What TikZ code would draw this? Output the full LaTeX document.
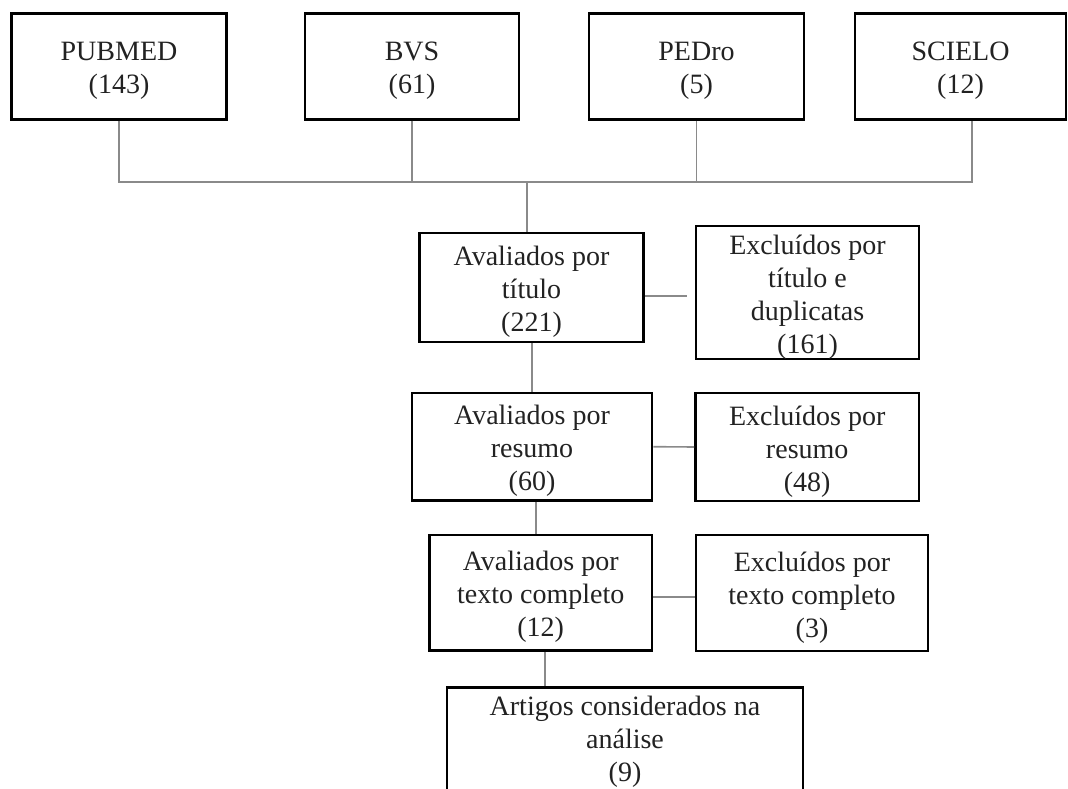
\documentclass[tikz,border=0pt]{standalone}
\usepackage{fontspec}
\setmainfont{Liberation Serif}
\definecolor{conncol}{HTML}{8A8A8A}
\definecolor{txtcol}{HTML}{222222}
\newcommand{\topstrut}{\rule{0pt}{28pt}}
\begin{document}
\begin{tikzpicture}[x=1pt,y=-1pt,
  box/.style={draw=black, line width=2.6pt, rectangle, align=center, inner sep=0pt,
    font=\fontsize{28}{33}\selectfont, text=txtcol},
  conn/.style={draw=conncol, line width=1.6pt}]
\useasboundingbox (0,0) rectangle (1068,789);
\clip (0,0) rectangle (1068,789);
% top sources
\node[box, minimum width=215pt, minimum height=106pt] (pubmed) at (119,66.3) {\topstrut PUBMED\\(143)};
\node[box, minimum width=214pt, minimum height=106pt] (bvs) at (412,66.3) {\topstrut BVS\\(61)};
\node[box, minimum width=215pt, minimum height=106pt] (pedro) at (696.5,66.3) {\topstrut PEDro\\(5)};
\node[box, minimum width=211pt, minimum height=106pt] (scielo) at (960.5,66.3) {\topstrut SCIELO\\(12)};
% flow
\node[box, minimum width=224pt, minimum height=109pt] (tit) at (531.5,287.5) {\topstrut Avaliados por\\título\\(221)};
\node[box, minimum width=223pt, minimum height=133pt] (exc1) at (807.5,292.5) {\topstrut Excluídos por\\título e\\duplicatas\\(161)};
\node[box, minimum width=240pt, minimum height=107.5pt] (res) at (532,446.7) {\topstrut Avaliados por\\resumo\\(60)};
\node[box, minimum width=223.6pt, minimum height=108pt] (exr) at (807.2,447) {\topstrut Excluídos por\\resumo\\(48)};
\node[box, minimum width=222.5pt, minimum height=115.5pt] (txt) at (540.7,592.7) {\topstrut Avaliados por\\texto completo\\(12)};
\node[box, minimum width=232pt, minimum height=116pt] (ext) at (812,593) {\topstrut Excluídos por\\texto completo\\(3)};
\node[box, minimum width=356pt, minimum height=108pt, anchor=north] (art) at (625,686) {Artigos considerados na\\análise\\(9)};
% connectors
\coordinate (bus) at (527,182);
\coordinate (gap1) at (686.5,296);
\draw[conn] (pubmed.south) -- (pubmed.south |- bus) -- ([xshift=11.5pt]scielo.south |- bus) -- ([xshift=11.5pt]scielo.south);
\draw[conn] (bvs.south) -- (bvs.south |- bus);
\draw[conn] (pedro.south) -- (pedro.south |- bus);
\draw[conn] (bus) -- (bus |- tit.north);
\draw[conn] (tit.east |- gap1) -- (gap1);
\draw[conn] (res.north |- tit.south) -- (res.north);
\draw[conn] (res.east) -- (exr.west);
\draw[conn] ([xshift=3.7pt]res.south) -- ([xshift=3.7pt]res.south |- txt.north);
\draw[conn] ([yshift=-4pt]txt.east) -- ([yshift=-4pt]txt.east -| ext.west);
\draw[conn] ([xshift=4pt]txt.south) -- ([xshift=4pt]txt.south |- art.north);
\end{tikzpicture}
\end{document}
